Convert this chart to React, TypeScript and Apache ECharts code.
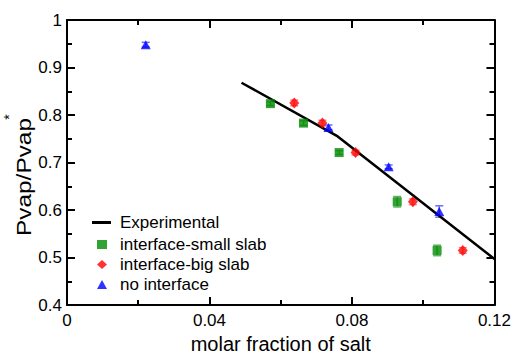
import React, { useEffect, useRef } from "react";
import * as echarts from "echarts";

// Experimental curve
const expX = [0.049, 0.076, 0.12];
const expY = [0.868, 0.755, 0.497];

// interface-small slab (green squares)
const smallX = [0.0571, 0.0664, 0.0764, 0.0927, 0.1039];
const smallY = [0.824, 0.783, 0.721, 0.6175, 0.515];
const smallErr = [0.004, 0.005, 0.004, 0.011, 0.011];

// interface-big slab (red diamonds)
const bigX = [0.0638, 0.0717, 0.081, 0.0971, 0.1111];
const bigY = [0.8255, 0.783, 0.721, 0.6175, 0.515];
const bigErr = [0.006, 0.006, 0.005, 0.006, 0.006];

// no interface (blue triangles)
const noX = [0.0221, 0.0734, 0.0903, 0.1045];
const noY = [0.948, 0.774, 0.691, 0.597];
const noErr = [0.005, 0.005, 0.004, 0.012];

const xTicks = { min: 0, max: 0.12, interval: 0.04 };
const yTicks = { min: 0.4, max: 1, interval: 0.1 };

const FONT = '"Liberation Sans", Arial, sans-serif';

function errSeries(xs: number[], ys: number[], es: number[], color: string) {
  return {
    type: "custom",
    silent: true,
    z: 1,
    data: xs.map((x, i) => [x, ys[i], es[i]]),
    renderItem: (_p: any, api: any) => {
      const x = api.value(0);
      const y = api.value(1);
      const e = api.value(2);
      const t = api.coord([x, y + e]);
      const b = api.coord([x, y - e]);
      const hw = 4;
      const st = { stroke: color, lineWidth: 1.5 };
      return {
        type: "group",
        children: [
          { type: "line", shape: { x1: t[0], y1: t[1], x2: b[0], y2: b[1] }, style: st },
          { type: "line", shape: { x1: t[0] - hw, y1: t[1], x2: t[0] + hw, y2: t[1] }, style: st },
          { type: "line", shape: { x1: b[0] - hw, y1: b[1], x2: b[0] + hw, y2: b[1] }, style: st },
        ],
      };
    },
  };
}

export default function App() {
  const ref = useRef<HTMLDivElement>(null);
  useEffect(() => {
    document.body.style.margin = "0";
    if (!ref.current) return;
    const chart = echarts.init(ref.current, null, { renderer: "svg" });
    const axisLine = { show: true, onZero: false, lineStyle: { color: "#000", width: 2 } };
    const axisTick = { inside: true, length: 8, lineStyle: { color: "#000", width: 2 } };
    const minorTick = { show: true, splitNumber: 2, length: 5, lineStyle: { color: "#000", width: 2 } };
    const label = { color: "#000", fontSize: 17, fontFamily: FONT };
    const legendText = { color: "#000", fontSize: 17, fontFamily: FONT, lineHeight: 17 };
    chart.setOption({
      animation: false,
      grid: { left: 67, right: 18, top: 20, bottom: 41 },
      legend: [
        {
          left: 92,
          top: 214,
          orient: "vertical",
          padding: 0,
          itemWidth: 19,
          itemHeight: 3,
          icon: "rect",
          textStyle: { ...legendText, padding: [0, 0, 0, 4] },
          data: ["Experimental"],
        },
        {
          left: 97,
          top: 236,
          orient: "vertical",
          padding: 0,
          itemWidth: 10,
          itemHeight: 9,
          itemGap: 3,
          textStyle: { ...legendText, padding: [0, 0, 0, 8] },
          data: ["interface-small slab", "interface-big slab", "no interface"],
        },
      ],
      xAxis: [
        {
          type: "value",
          position: "bottom",
          ...xTicks,
          axisLine,
          axisTick,
          minorTick,
          splitLine: { show: false },
          axisLabel: { ...label, margin: 7 },
          name: "molar fraction of salt",
          nameLocation: "middle",
          nameGap: 22,
          nameTextStyle: { color: "#000", fontSize: 20, fontFamily: FONT },
        },
        {
          type: "value",
          position: "top",
          ...xTicks,
          axisLine,
          axisTick,
          minorTick,
          splitLine: { show: false },
          axisLabel: { show: false },
        },
      ],
      yAxis: [
        {
          type: "value",
          position: "left",
          ...yTicks,
          axisLine,
          axisTick,
          minorTick,
          splitLine: { show: false },
          axisLabel: { ...label, margin: 5 },
        },
        {
          type: "value",
          position: "right",
          ...yTicks,
          axisLine,
          axisTick,
          minorTick,
          splitLine: { show: false },
          axisLabel: { show: false },
        },
      ],
      graphic: [
        {
          type: "text",
          x: 24,
          y: 177,
          rotation: Math.PI / 2,
          scaleX: 1.22,
          style: {
            text: "Pvap/Pvap",
            font: `20px ${FONT}`,
            fill: "#000",
            align: "center",
            verticalAlign: "middle",
          },
        },
        {
          type: "text",
          x: 9,
          y: 117,
          rotation: Math.PI / 2,
          style: {
            text: "*",
            font: `14px ${FONT}`,
            fill: "#000",
            align: "center",
            verticalAlign: "middle",
          },
        },
      ],
      series: [
        {
          name: "Experimental",
          type: "line",
          data: expX.map((x, i) => [x, expY[i]]),
          showSymbol: false,
          symbol: "none",
          itemStyle: { color: "#000" },
          lineStyle: { color: "#000", width: 2.5 },
          z: 2,
        },
        errSeries(smallX, smallY, smallErr, "#5fb35f"),
        errSeries(bigX, bigY, bigErr, "#ff8080"),
        errSeries(noX, noY, noErr, "#6a6aff"),
        {
          name: "interface-small slab",
          type: "scatter",
          symbol: "rect",
          symbolSize: 9,
          itemStyle: { color: "#008a00" },
          data: smallX.map((x, i) => [x, smallY[i]]),
          z: 3,
        },
        {
          name: "interface-big slab",
          type: "scatter",
          symbol: "diamond",
          symbolSize: [10, 11],
          itemStyle: { color: "#ff0000" },
          data: bigX.map((x, i) => [x, bigY[i]]),
          z: 3,
        },
        {
          name: "no interface",
          type: "scatter",
          symbol: "triangle",
          symbolSize: [10, 9],
          itemStyle: { color: "#0000ff" },
          data: noX.map((x, i) => [x, noY[i]]),
          z: 3,
        },
      ],
    });
    return () => chart.dispose();
  }, []);
  return <div ref={ref} style={{ width: 514, height: 359 }} />;
}
